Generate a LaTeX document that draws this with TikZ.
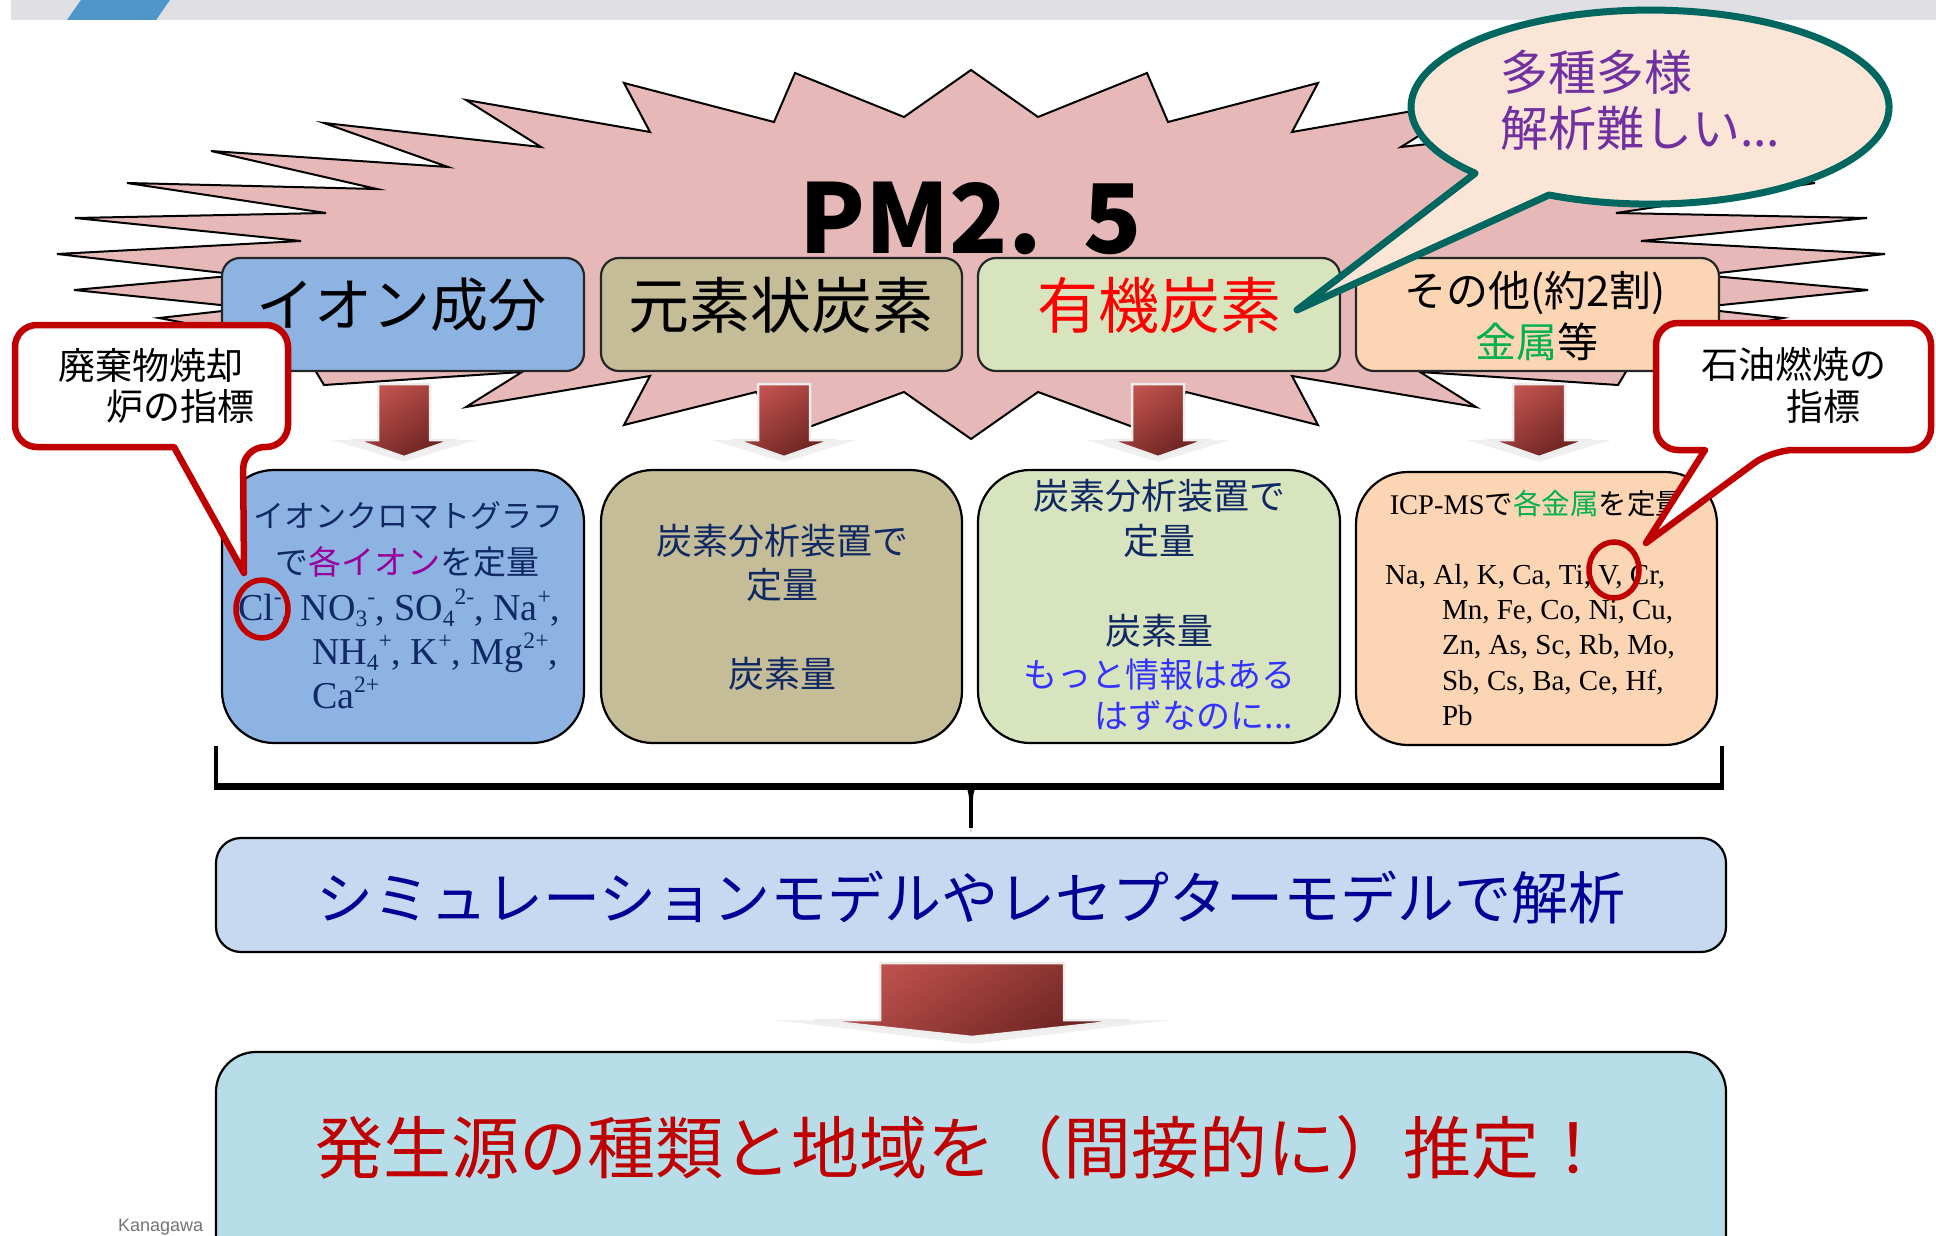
\documentclass[tikz,border=0pt]{standalone}
\usepackage{fontspec}
\usepackage{graphicx}
\setmainfont{Noto Sans CJK JP}
\newfontfamily\tms{Liberation Serif}
\newfontfamily\arl{Liberation Sans}
\definecolor{starpink}{RGB}{230,185,184}
\definecolor{ionblue}{RGB}{141,179,226}
\definecolor{ecbrown}{RGB}{196,189,151}
\definecolor{ocgreen}{RGB}{215,228,189}
\definecolor{othpeach}{RGB}{252,213,181}
\definecolor{simblue}{RGB}{198,217,241}
\definecolor{resblue}{RGB}{183,222,232}
\definecolor{bubfill}{RGB}{251,229,214}
\definecolor{teal2}{RGB}{0,102,96}
\definecolor{calred}{RGB}{192,0,0}
\definecolor{navy2}{RGB}{16,40,100}
\definecolor{purp2}{RGB}{153,0,153}
\definecolor{grn2}{RGB}{0,176,80}
\definecolor{blu2}{RGB}{51,51,255}
\definecolor{simtext}{RGB}{0,0,150}
\definecolor{bubtext}{RGB}{112,48,160}
\definecolor{arrowA}{RGB}{196,84,80}
\definecolor{arrowB}{RGB}{105,34,32}
\definecolor{bandgray}{RGB}{224,224,228}
\definecolor{bandblue}{RGB}{80,150,200}
\newcommand\fsz[1]{\fontsize{#1}{#1}\selectfont}
\newcommand\upx[1]{\raisebox{0.42em}{\scalebox{0.62}{#1}}}
\newcommand\dnx[1]{\raisebox{-0.18em}{\scalebox{0.62}{#1}}}
\newcommand\blockarrow[6]{%
  \shade[arrowshade] (#1-#3,#2) -- (#1+#3,#2) -- (#1+#3,#4) -- (#1+#5,#4) -- (#1,#6) -- (#1-#5,#4) -- (#1-#3,#4) -- cycle;}
\tikzset{
  txt/.style={inner sep=0pt, outer sep=0pt},
  topbox/.style={draw=black!85, line width=2.2, rounded corners=18pt},
  lowbox/.style={draw=black, line width=2.2, rounded corners=52pt},
  callout/.style={draw=calred, line width=6.5, fill=white, line join=round},
  redring/.style={draw=calred, line width=5.5},
  arrowshade/.style={top color=arrowA, bottom color=arrowB, shading angle=35, draw=white!93!black, line width=2.5},
  glow/.style={fill=black!6},
}
\begin{document}
\begin{tikzpicture}[x=1pt,y=-1pt]
\useasboundingbox (0,0) rectangle (1936,1236);
\fill[white] (0,0) rectangle (1936,1236);
% header band
\fill[bandgray] (11,0) rectangle (1936,20);
\fill[bandblue] (81,0) -- (170,0) -- (156,20) -- (67,20) -- cycle;
% starburst
\draw[fill=starpink, draw=black, line width=2, line join=miter]
 (971,70) -- (904,117) -- (795,73) -- (774,122) -- (624,83) -- (650,132) -- (466,100) -- (541,147)
 -- (324,123) -- (448,167) -- (211,151) -- (377,189) -- (127,183) -- (326,213) -- (75,218) -- (301,241)
 -- (57,254) -- (241,275) -- (74,290) -- (250,308) -- (159,318) -- (300,345) -- (324,385) -- (522,372)
 -- (466,407) -- (650,376) -- (624,425) -- (756,392) -- (790,434) -- (904,392) -- (971,439)
 -- (1038,392) -- (1152,434) -- (1186,392) -- (1318,425) -- (1292,376) -- (1476,407) -- (1420,372)
 -- (1618,385) -- (1642,345) -- (1783,318) -- (1692,308) -- (1868,290) -- (1701,275) -- (1885,254)
 -- (1641,241) -- (1867,218) -- (1616,213) -- (1815,183) -- (1565,189) -- (1731,151) -- (1494,167)
 -- (1618,123) -- (1401,147) -- (1476,100) -- (1292,132) -- (1318,83) -- (1168,122) -- (1147,73)
 -- (1038,117) -- cycle;
\node[txt] (pm) at (971,218) {\fsz{96}\bfseries PM2.\hspace{42pt}5};
% upper boxes
\draw[topbox, fill=ionblue] (222,258) rectangle (584,371);
\draw[topbox, fill=ecbrown] (601,258) rectangle (962,371);
\draw[topbox, fill=ocgreen] (978,258) rectangle (1340,371);
\draw[topbox, fill=othpeach] (1356,258) rectangle (1719,371);
\node[txt] (t1) at (401,305) {\fsz{58}イオン成分};
\node[txt] (t2) at (781,305) {\fsz{61}元素状炭素};
\node[txt, text=red] (t3) at (1159,305) {\fsz{61}有機炭素};
\node[txt] (t4a) at (1535,293) {\fsz{42}その他(約2割)};
\node[txt] (t4b) at (1537,342) {\fsz{41}{\color{grn2}金属}等};
% small arrows
\foreach \cx in {404,784,1158,1539}{
  \fill[glow] (\cx-72,440) -- (\cx+72,440) -- (\cx,462) -- cycle;
  \blockarrow{\cx}{384}{26}{440}{48}{457}
}
% lower boxes
\draw[lowbox, fill=ionblue] (222,470) rectangle (584,743);
\draw[lowbox, fill=ecbrown] (601,470) rectangle (962,743);
\draw[lowbox, fill=ocgreen] (978,470) rectangle (1340,743);
\draw[lowbox, fill=othpeach] (1356,472) rectangle (1717,745);
% box 1 text
\node[txt, text=navy2] (l1a) at (408,516) {\fsz{31}イオンクロマトグラフ};
\node[txt, text=navy2] (l1b) at (407,562) {\fsz{33}で{\color{purp2}各イオン}を定量};
\node[txt, text=navy2, anchor=base west] (l1c) at (238,620) {\tms\fsz{38}Cl\upx{-}, NO\dnx{3}\upx{-}, SO\dnx{4}\upx{2-}, Na\upx{+},};
\node[txt, text=navy2, anchor=base west] (l1d) at (312,664) {\tms\fsz{38}NH\dnx{4}\upx{+}, K\upx{+}, Mg\upx{2+},};
\node[txt, text=navy2, anchor=base west] (l1e) at (312,708) {\tms\fsz{38}Ca\upx{2+}};
% box 2 text
\node[txt, text=navy2] (l2a) at (782,541) {\fsz{36}炭素分析装置で};
\node[txt, text=navy2] (l2b) at (782,585) {\fsz{36}定量};
\node[txt, text=navy2] (l2c) at (782,674) {\fsz{36}炭素量};
% box 3 text
\node[txt, text=navy2] (l3a) at (1159,496) {\fsz{36}炭素分析装置で};
\node[txt, text=navy2] (l3b) at (1159,541) {\fsz{36}定量};
\node[txt, text=navy2] (l3c) at (1159,631) {\fsz{36}炭素量};
\node[txt, text=blu2] (l3d) at (1159,675) {\fsz{34}もっと情報はある};
\node[txt, text=blu2, anchor=east] (l3e) at (1293,716) {\fsz{34}はずなのに...};
% box 4 text
\node[txt] (l4a) at (1537,504) {\fsz{28.5}{\tms ICP-MS}で{\color{grn2}各金属}を定量};
\node[txt, anchor=base west] (l4b) at (1385,584) {\tms\fsz{29}Na, Al, K, Ca, Ti, V, Cr,};
\node[txt, anchor=base west] (l4c) at (1442,619) {\tms\fsz{29}Mn, Fe, Co, Ni, Cu,};
\node[txt, anchor=base west] (l4d) at (1442,654) {\tms\fsz{29}Zn, As, Sc, Rb, Mo,};
\node[txt, anchor=base west] (l4e) at (1442,690) {\tms\fsz{29}Sb, Cs, Ba, Ce, Hf,};
\node[txt, anchor=base west] (l4f) at (1442,725) {\tms\fsz{29}Pb};
% red rings
\draw[redring] (262,609) ellipse [x radius=26, y radius=29];
\draw[redring] (1614,570) ellipse [x radius=25, y radius=28];
% callouts
\draw[callout] (15,390) [rounded corners=22pt] -- (15,325) -- (288,325) -- (288,447) -- (243,447)
  [sharp corners] -- (244,573) -- (174,447) [rounded corners=22pt] -- (15,447) -- cycle;
\node[txt] (c1a) at (151,366) {\fsz{37}廃棄物焼却};
\node[txt, anchor=east] (c1b) at (254,406) {\fsz{37}炉の指標};
\draw[callout] (1656,390) [rounded corners=22pt] -- (1656,323) -- (1931,323) -- (1931,450) -- (1772,450)
  [sharp corners] -- (1646,543) -- (1705,450) [rounded corners=22pt] -- (1656,450) -- cycle;
\node[txt] (c2a) at (1794,364) {\fsz{37}石油燃焼の};
\node[txt] (c2b) at (1823,406) {\fsz{37}指標};
% speech bubble
\draw[draw=teal2, fill=bubfill, line width=7, line join=round]
  (1297,310) -- (1549,195) arc[start angle=115, end angle=-223, x radius=239, y radius=97] -- cycle;
\node[txt, anchor=west, text=bubtext] (bb1) at (1500,72) {\fsz{48}多種多様};
\node[txt, anchor=west, text=bubtext] (bb2) at (1500,128) {\fsz{48}解析難しい...};
% brace
\draw[line width=4.5] (216,746) -- (216,786);
\draw[line width=4.5] (1722,746) -- (1722,786);
\draw[line width=7] (214,786) -- (1724,786);
\fill (958,783) .. controls (969,786) .. (971,832) .. controls (973,786) .. (984,783) -- cycle;
\draw[line width=3.5] (971,786) -- (971,828);
% simulation box
\draw[draw=black, line width=2.2, rounded corners=25pt, fill=simblue] (216,838) rectangle (1726,952);
\node[txt, text=simtext] (simt) at (971,898) {\fsz{57}シミュレーションモデルやレセプターモデルで解析};
% big arrow
\fill[glow] (775,1020) -- (1170,1020) -- (972,1044) -- cycle;
\blockarrow{972}{963}{92}{1020}{157}{1037}
% result box
\draw[draw=black, line width=2.2, rounded corners=40pt, fill=resblue] (216,1052) rectangle (1726,1300);
\node[txt, text=calred] (rest) at (961,1148) {\fsz{68}発生源の種類と地域を（間接的に）推定！};
\node[txt, anchor=base west, text=black!55] (kana) at (118,1231) {\arl\fsz{18}Kanagawa};
\end{tikzpicture}
\end{document}
